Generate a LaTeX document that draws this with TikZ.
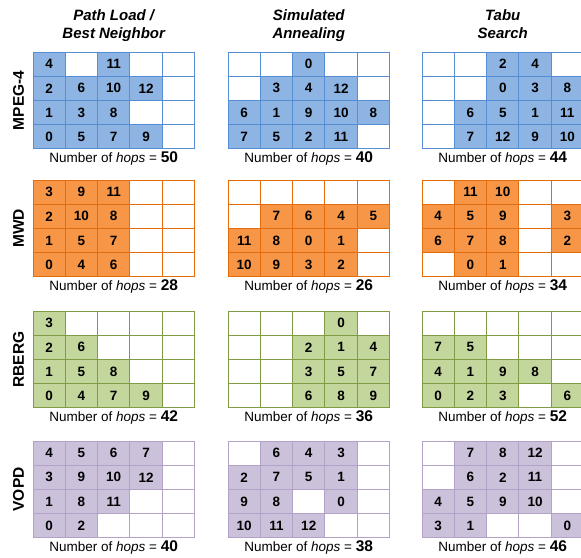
\documentclass[tikz,border=0pt]{standalone}
\usepackage{fontspec}
\setmainfont{Liberation Sans}
\usetikzlibrary{positioning}
\definecolor{bluefill}{HTML}{8DB4E2}
\definecolor{blueline}{HTML}{558ED5}
\definecolor{orangefill}{HTML}{F79646}
\definecolor{orangeline}{HTML}{E46C0A}
\definecolor{greenfill}{HTML}{C3D69B}
\definecolor{greenline}{HTML}{7F9B45}
\definecolor{purplefill}{HTML}{CCC1DA}
\definecolor{purpleline}{HTML}{B3A2C7}
\newcommand{\cw}{32.3}
\newcommand{\ch}{24.2}
% #1 name, #2 left, #3 top, #4 fill, #5 line, #6 cells (row by row, -1 = free), #7 hops
\newcommand{\mapgrid}[7]{%
  \foreach \v [count=\idx from 0] in {#6} {%
    \pgfmathtruncatemacro{\gcol}{mod(\idx,5)}%
    \pgfmathtruncatemacro{\grow}{\idx/5}%
    \ifnum\v<0
      \node[cell,draw=#5] (#1-\grow-\gcol) at ({#2+(\gcol+0.5)*\cw},{#3+(\grow+0.5)*\ch}) {};
    \else
      \node[cell,fill=#4,draw=#5] (#1-\grow-\gcol) at ({#2+(\gcol+0.5)*\cw},{#3+(\grow+0.5)*\ch}) {\v};
    \fi
  }
  \node[hops] (#1-hops) at ({#2+2.5*\cw},{#3+4*\ch+14}) {Number of \textit{hops} = {\bfseries\fontsize{15.5}{18}\selectfont #7}};
}

\begin{document}
\begin{tikzpicture}[x=1pt,y=-1pt,
 cell/.style={minimum width=32.3pt,minimum height=24.2pt,inner sep=0pt,line width=0.9pt,
   font=\bfseries\fontsize{13.5}{15}\selectfont},
 hops/.style={anchor=base,inner sep=0pt,font=\fontsize{13.5}{15}\selectfont},
 algo/.style={anchor=north,align=center,inner sep=0pt,
   font=\bfseries\itshape\fontsize{15}{18.5}\selectfont},
 bench/.style={rotate=90,inner sep=0pt,font=\bfseries\fontsize{15.5}{18}\selectfont}]
\useasboundingbox (0,0) rectangle (581,557);

\node[algo] (pl) at (113.75,9) {Path Load /\\Best Neighbor};
\node[algo] (sa) at (308.75,9) {Simulated\\Annealing};
\node[algo] (ts) at (502.75,9) {Tabu\\Search};

\node[bench] (mpeg) at (18.5,100.4) {MPEG-4};
\node[bench] (mwd) at (18.5,228.4) {MWD};
\node[bench] (rberg) at (18.5,359.4) {RBERG};
\node[bench] (vopd) at (18.5,489.4) {VOPD};

% MPEG-4
\mapgrid{mpeg-pl}{33}{52}{bluefill}{blueline}{4,-1,11,-1,-1, 2,6,10,12,-1, 1,3,8,-1,-1, 0,5,7,9,-1}{50}
\mapgrid{mpeg-sa}{228}{52}{bluefill}{blueline}{-1,-1,0,-1,-1, -1,3,4,12,-1, 6,1,9,10,8, 7,5,2,11,-1}{40}
\mapgrid{mpeg-ts}{422}{52}{bluefill}{blueline}{-1,-1,2,4,-1, -1,-1,0,3,8, -1,6,5,1,11, -1,7,12,9,10}{44}

% MWD
\mapgrid{mwd-pl}{33}{180}{orangefill}{orangeline}{3,9,11,-1,-1, 2,10,8,-1,-1, 1,5,7,-1,-1, 0,4,6,-1,-1}{28}
\mapgrid{mwd-sa}{228}{180}{orangefill}{orangeline}{-1,-1,-1,-1,-1, -1,7,6,4,5, 11,8,0,1,-1, 10,9,3,2,-1}{26}
\mapgrid{mwd-ts}{422}{180}{orangefill}{orangeline}{-1,11,10,-1,-1, 4,5,9,-1,3, 6,7,8,-1,2, -1,0,1,-1,-1}{34}

% RBERG
\mapgrid{rberg-pl}{33}{311}{greenfill}{greenline}{3,-1,-1,-1,-1, 2,6,-1,-1,-1, 1,5,8,-1,-1, 0,4,7,9,-1}{42}
\mapgrid{rberg-sa}{228}{311}{greenfill}{greenline}{-1,-1,-1,0,-1, -1,-1,2,1,4, -1,-1,3,5,7, -1,-1,6,8,9}{36}
\mapgrid{rberg-ts}{422}{311}{greenfill}{greenline}{-1,-1,-1,-1,-1, 7,5,-1,-1,-1, 4,1,9,8,-1, 0,2,3,-1,6}{52}

% VOPD
\mapgrid{vopd-pl}{33}{441}{purplefill}{purpleline}{4,5,6,7,-1, 3,9,10,12,-1, 1,8,11,-1,-1, 0,2,-1,-1,-1}{40}
\mapgrid{vopd-sa}{228}{441}{purplefill}{purpleline}{-1,6,4,3,-1, 2,7,5,1,-1, 9,8,-1,0,-1, 10,11,12,-1,-1}{38}
\mapgrid{vopd-ts}{422}{441}{purplefill}{purpleline}{-1,7,8,12,-1, -1,6,2,11,-1, 4,5,9,10,-1, 3,1,-1,-1,0}{46}
\end{tikzpicture}
\end{document}
